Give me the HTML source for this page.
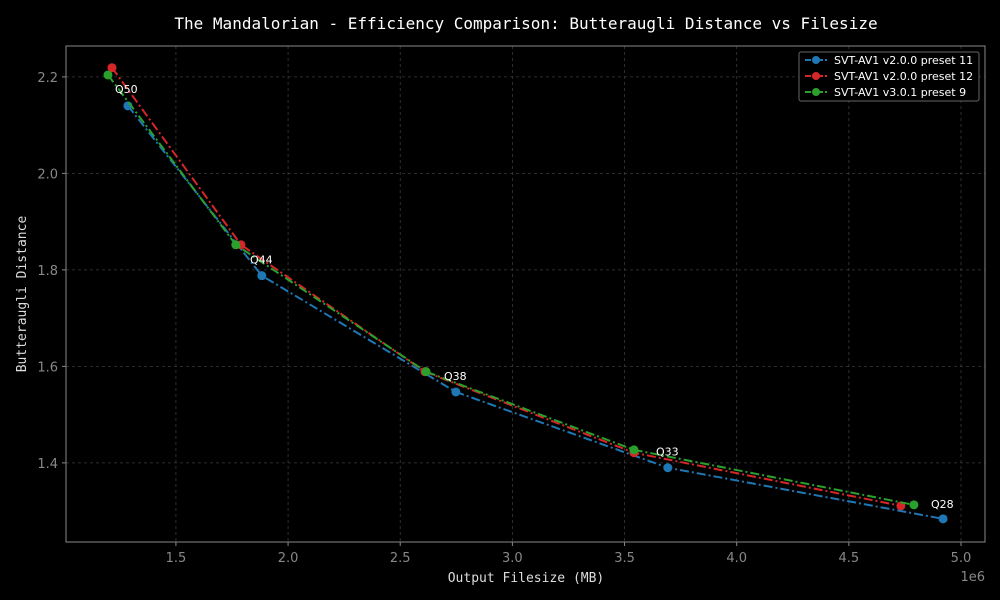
<!DOCTYPE html>
<html><head><meta charset="utf-8"><style>
body{margin:0;background:#000;}
svg{display:block;}
text{font-family:"DejaVu Sans","Liberation Sans",sans-serif;}
text.mono{font-family:"DejaVu Sans Mono","Liberation Mono",monospace;}
</style></head><body>
<svg id="chart" width="1000" height="600">
<rect width="1000" height="600" fill="#000"/>
<text class="mono" x="526" y="29" fill="#fff" font-size="16" text-anchor="middle">The Mandalorian - Efficiency Comparison: Butteraugli Distance vs Filesize</text>
<g id="grid"></g>
<rect x="66" y="46" width="919" height="496" fill="none" stroke="#888" stroke-width="1"/>
<g id="series"></g>
<g id="ticks"></g>
<text class="mono" x="526" y="582" fill="#ddd" font-size="13" text-anchor="middle">Output Filesize (MB)</text>
<text class="mono" x="26" y="294" fill="#ddd" font-size="13" text-anchor="middle" transform="rotate(-90 26 294)">Butteraugli Distance</text>
<text x="985" y="581" fill="#888" font-size="13" text-anchor="end">1e6</text>
<g id="legend">
<rect x="799" y="52" width="180" height="49" fill="#000" stroke="#666" rx="2"/>
</g>
</svg>
<script>
const xTicks=[1.5,2.0,2.5,3.0,3.5,4.0,4.5,5.0];
const yTicks=[1.4,1.6,1.8,2.0,2.2];
const seriesNames=["SVT-AV1 v2.0.0 preset 11","SVT-AV1 v2.0.0 preset 12","SVT-AV1 v3.0.1 preset 9"];
const colors=["#1f77b4","#d62728","#2ca02c"];
const xs11=[1.286e6,1.883e6,2.748e6,3.693e6,4.920e6];
const ys11=[2.140,1.788,1.547,1.390,1.284];
const xs12=[1.215e6,1.790e6,2.610e6,3.542e6,4.732e6];
const ys12=[2.219,1.852,1.589,1.421,1.311];
const xs9=[1.197e6,1.767e6,2.615e6,3.542e6,4.790e6];
const ys9=[2.204,1.852,1.589,1.427,1.313];
const qLabels=["Q50","Q44","Q38","Q33","Q28"];
const X=v=>66+(v/1e6-1.010)/(5.107-1.010)*919;
const Y=v=>46+(2.264-v)/(2.264-1.236)*496;
const NS="http://www.w3.org/2000/svg";
function mk(t,a,p){const e=document.createElementNS(NS,t);for(const k in a)e.setAttribute(k,a[k]);p.appendChild(e);return e;}
const grid=document.getElementById('grid'),ticks=document.getElementById('ticks'),ser=document.getElementById('series'),leg=document.getElementById('legend');
xTicks.forEach(t=>{const x=X(t*1e6);
const g=mk('line',{x1:x,x2:x,y1:46,y2:542,stroke:'#3a3a3a','stroke-width':0.8,'stroke-dasharray':'3,3'},grid);

mk('line',{x1:x,x2:x,y1:542,y2:546,stroke:'#888'},ticks);
const l=mk('text',{x:x,y:562,fill:'#888','font-size':13,'text-anchor':'middle'},ticks);l.textContent=t.toFixed(1);
});
yTicks.forEach(t=>{const y=Y(t);
const g=mk('line',{x1:66,x2:985,y1:y,y2:y,stroke:'#3a3a3a','stroke-width':0.8,'stroke-dasharray':'3,3'},grid);

mk('line',{x1:62,x2:66,y1:y,y2:y,stroke:'#888'},ticks);
const l=mk('text',{x:58,y:y+5,fill:'#888','font-size':13,'text-anchor':'end'},ticks);l.textContent=t.toFixed(1);
});
[[xs11,ys11],[xs12,ys12],[xs9,ys9]].forEach(([xs,ys],i)=>{
const pl=mk('polyline',{points:xs.map((x,j)=>X(x)+','+Y(ys[j])).join(' '),fill:'none',stroke:colors[i],'stroke-width':2,'stroke-dasharray':'9,3,2,3'},ser);

xs.forEach((x,j)=>{const c=mk('circle',{cx:X(x),cy:Y(ys[j]),r:4.5,fill:colors[i]},ser);
});});
const qOffsets=[-13,-12,-12,-12,-11];
xs11.forEach((x,j)=>{const t=mk('text',{x:[115,250,444,656,931][j],y:Y(ys11[j])+qOffsets[j],fill:'#fff','font-size':11},ser);
t.textContent=qLabels[j];
});
seriesNames.forEach((n,i)=>{const y=60+i*16;
mk('line',{x1:805,x2:827,y1:y,y2:y,stroke:colors[i],'stroke-width':2,'stroke-dasharray':'6,2,2,2'},leg);
mk('circle',{cx:816,cy:y,r:4,fill:colors[i]},leg);
const t=mk('text',{x:834,y:y+4,fill:'#fff','font-size':11},leg);t.textContent=n;
});
</script>
</body></html>
